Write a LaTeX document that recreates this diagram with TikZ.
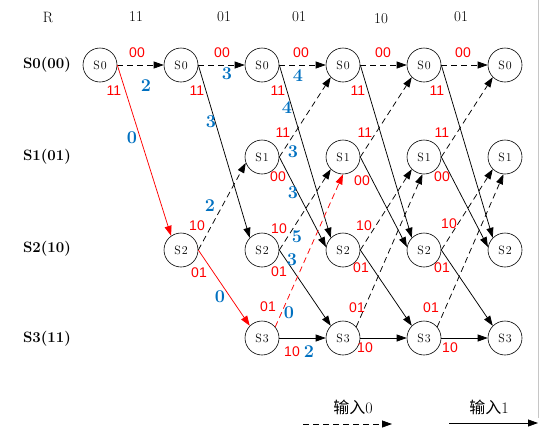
\documentclass[tikz,border=0pt]{standalone}
\usepackage{fontspec}
\newfontfamily\cjkfont{Noto Sans CJK SC}
\newfontfamily\labfont{Liberation Sans}
\usetikzlibrary{arrows.meta}
\definecolor{metblue}{RGB}{0,112,192}
\definecolor{outred}{RGB}{255,0,0}
\begin{document}
\begin{tikzpicture}[x=1pt,y=-1pt,
  st/.style={circle,draw,line width=0.6pt,minimum size=34pt,inner sep=0pt,font=\fontsize{12}{12}\selectfont},
  arr/.style={-{Triangle[length=10pt,width=7pt]},line width=0.75pt},
  dsh/.style={arr,dash pattern=on 6pt off 4pt},
  outl/.style={text=outred,font=\labfont\fontsize{14}{14}\selectfont,inner sep=0pt},
  met/.style={text=metblue,font=\fontsize{18}{18}\selectfont\bfseries,inner sep=0pt},
  hdr/.style={font=\fontsize{15}{15}\selectfont,inner sep=0pt},
  rowl/.style={font=\fontsize{15}{15}\selectfont\bfseries,inner sep=0pt},
  leg/.style={font=\fontsize{16}{16}\selectfont,inner sep=0pt}
]
\useasboundingbox (0,0) rectangle (540,437);
\draw[gray!45,line width=0.8pt] (538.5,0) -- (538.5,418);

% header
\node[hdr] (hR) at (48,17) {R};
\node[hdr] (h1) at (136,17) {11};
\node[hdr] (h2) at (224,17) {01};
\node[hdr] (h3) at (299,17) {01};
\node[hdr] (h4) at (381,19) {10};
\node[hdr] (h5) at (461,17) {01};

% row labels
\node[rowl] (r0) at (47,65) {S0(00)};
\node[rowl] (r1) at (47,157) {S1(01)};
\node[rowl] (r2) at (47,249) {S2(10)};
\node[rowl] (r3) at (47,339) {S3(11)};

% states
\node[st] (n00) at (100,65) {S\kern1pt0};
\node[st] (n10) at (181,65) {S\kern1pt0};
\node[st] (n12) at (181,250) {S\kern1pt2};
\foreach \c/\x in {2/262,3/343,4/424,5/505}{
  \foreach \s/\y in {0/65,1/157,2/250,3/338}{
    \node[st] (n\c\s) at (\x,\y) {S\kern1pt\s};
  }
}

% column 0 -> 1
\draw[dsh] (n00.east) -- (n10.west);
\draw[arr,red] (n00.east) -- (n12.125);
% column 1 -> 2
\draw[dsh] (n10.east) -- (n20.west);
\draw[arr] (n10.east) -- (n22.135);
\draw[dsh] (n12.east) -- (n21.200);
\draw[arr,red] (n12.east) -- (n23.135);
% column 2 -> 3
\draw[dsh] (n20.east) -- (n30.west);
\draw[arr] (n20.east) -- (n32.135);
\draw[dsh] (n21.east) -- (n30.225);
\draw[arr] (n21.east) -- (n32.170);
\draw[dsh] (n22.east) -- (n31.225);
\draw[arr] (n22.east) -- (n33.135);
\draw[dsh,red] (n23.40) -- (n31.270);
\draw[arr] (n23.east) -- (n33.west);
% columns 3 -> 4 and 4 -> 5
\foreach \c/\d in {3/4,4/5}{
  \draw[dsh] (n\c0.east) -- (n\d0.west);
  \draw[arr] (n\c0.east) -- (n\d2.135);
  \draw[dsh] (n\c1.east) -- (n\d0.225);
  \draw[arr] (n\c1.east) -- (n\d2.170);
  \draw[dsh] (n\c2.east) -- (n\d1.225);
  \draw[arr] (n\c2.east) -- (n\d3.135);
  \draw[dsh] (n\c3.40) -- (n\d1.265);
  \draw[arr] (n\c3.east) -- (n\d3.west);
}

% output labels (red)
\node[outl] (o1) at (137,53) {00};
\node[outl] (o2) at (114,91) {11};
\node[outl] (o3) at (222,53) {00};
\node[outl] (o4) at (197,91) {11};
\node[outl] (o5) at (197,226) {10};
\node[outl] (o6) at (199,273) {01};
\node[outl] (o7) at (301,53) {00};
\node[outl] (o8) at (278,91) {11};
\node[outl] (o9) at (283,133) {11};
\node[outl] (o10) at (278,177) {00};
\node[outl] (o11) at (279,229) {10};
\node[outl] (o12) at (279,272) {01};
\node[outl] (o13) at (268,307) {01};
\node[outl] (o14) at (292,352) {10};
\node[outl] (o15) at (383,53) {00};
\node[outl] (o16) at (358,91) {11};
\node[outl] (o17) at (365,133) {11};
\node[outl] (o18) at (362,181) {00};
\node[outl] (o19) at (364,226) {10};
\node[outl] (o20) at (361,268) {01};
\node[outl] (o21) at (357,308) {01};
\node[outl] (o22) at (365,348) {10};
\node[outl] (o23) at (463,53) {00};
\node[outl] (o24) at (437,91) {11};
\node[outl] (o25) at (442,133) {11};
\node[outl] (o26) at (442,177) {00};
\node[outl] (o27) at (449,224) {10};
\node[outl] (o28) at (442,268) {01};
\node[outl] (o29) at (431,308) {01};
\node[outl] (o30) at (450,348) {10};

% metrics (blue)
\node[met] (m1) at (146,86) {2};
\node[met] (m2) at (132,138) {0};
\node[met] (m3) at (227,74) {3};
\node[met] (m4) at (211,122) {3};
\node[met] (m5) at (210,206) {2};
\node[met] (m6) at (220,297) {0};
\node[met] (m7) at (298,76) {4};
\node[met] (m8) at (287,108) {4};
\node[met] (m9) at (293,152) {3};
\node[met] (m10) at (293,193) {3};
\node[met] (m11) at (297,237) {5};
\node[met] (m12) at (292,260) {3};
\node[met] (m13) at (289,313) {0};
\node[met] (m14) at (309,352) {2};

% legend
\node[leg] (l0) at (353,407) {{\cjkfont 输入}0};
\node[leg] (l1) at (489,407) {{\cjkfont 输入}1};
\coordinate (a0) at (303,424);
\coordinate (b0) at (392,424);
\coordinate (a1) at (449,423);
\coordinate (b1) at (538,423);
\draw[dsh] (a0) -- (b0);
\draw[arr] (a1) -- (b1);
\end{tikzpicture}
\end{document}
